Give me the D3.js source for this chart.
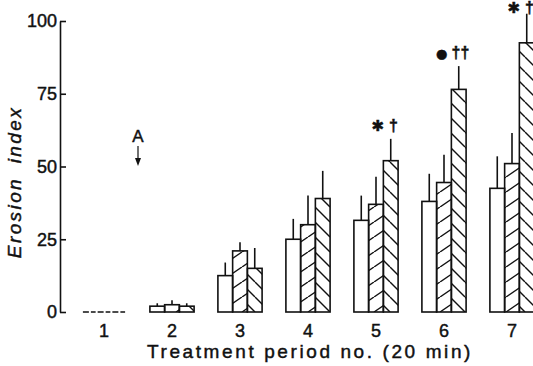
<!DOCTYPE html>
<html>
<head>
<meta charset="utf-8">
<script src="https://cdn.jsdelivr.net/npm/d3@7"></script>
<style>
  body { margin: 0; background: #fff; }
  svg { display: block; font-family: "Liberation Sans", Arial, sans-serif; }
  text { stroke: #111; stroke-width: 0.45; }
</style>
</head>
<body>
<svg id="chart" width="533" height="366"></svg>
<script>
// values
var periods = ["1", "2", "3", "4", "5", "6", "7"];
var yTicks = [0, 25, 50, 75, 100];
var meanOpen = [0, 2, 12.5, 25, 31.5, 38, 42.5];
var semOpen = [0, 1, 4.5, 7, 8.5, 9.5, 11];
var meanHatchA = [0, 2.5, 21, 30, 37, 44.5, 51];
var semHatchA = [0, 1.5, 3, 10, 9.5, 9.5, 10.5];
var meanHatchB = [0, 2, 15, 39, 52, 76.5, 92.5];
var semHatchB = [0, 1, 7, 9.5, 7.5, 8, 10];
var notes = [
  {period: "5", mark: "\u2731", dag: "\u2020"},
  {period: "6", mark: "\u25CF", dag: "\u2020\u2020"},
  {period: "7", mark: "\u2731", dag: "\u2020"}
];

var svg = d3.select("#chart");

var y = d3.scaleLinear().domain([0, 100]).range([312, 21]);
var x = d3.scaleBand().domain(periods).range([70, 546])
  .paddingInner(0.35).paddingOuter(0.175);
var x1 = d3.scaleBand().domain([0, 1, 2]).range([0, x.bandwidth()]);

// hatch patterns
var defs = svg.append("defs");
function hatch(id, w, h, up) {
  var p = defs.append("pattern").attr("id", id)
    .attr("patternUnits", "userSpaceOnUse")
    .attr("width", w).attr("height", h)
    .attr("y", 312);
  var segs = up
    ? [[-w, h, 0, 0], [0, h, w, 0], [w, h, 2 * w, 0]]
    : [[-w, 0, 0, h], [0, 0, w, h], [w, 0, 2 * w, h]];
  segs.forEach(function (s) {
    p.append("line").attr("x1", s[0]).attr("y1", s[1]).attr("x2", s[2]).attr("y2", s[3])
      .attr("stroke", "#111").attr("stroke-width", 1.4);
  });
}
hatch("hatchA", 22, 15, true);
hatch("hatchB", 15, 15, false);

var series = [
  {mean: meanOpen, sem: semOpen, fill: "#fff"},
  {mean: meanHatchA, sem: semHatchA, fill: "url(#hatchA)"},
  {mean: meanHatchB, sem: semHatchB, fill: "url(#hatchB)"}
];

var rows = [];
periods.forEach(function (p, i) {
  series.forEach(function (s, j) {
    rows.push({period: p, k: j, v: s.mean[i], e: s.sem[i], fill: s.fill});
  });
});

var g = svg.append("g");

var bars = rows.filter(function (d) { return d.v > 0; });
var zeros = rows.filter(function (d) { return d.v === 0; });

// error bars (behind)
g.selectAll("line.err").data(bars).enter().append("line")
  .attr("class", "err")
  .attr("x1", function (d) { return x(d.period) + x1(d.k) + x1.bandwidth() / 2; })
  .attr("x2", function (d) { return x(d.period) + x1(d.k) + x1.bandwidth() / 2; })
  .attr("y1", function (d) { return y(d.v); })
  .attr("y2", function (d) { return y(d.v + d.e); })
  .attr("stroke", "#111").attr("stroke-width", 1.6);

g.selectAll("rect.bar").data(bars).enter().append("rect")
  .attr("class", "bar")
  .attr("x", function (d) { return x(d.period) + x1(d.k); })
  .attr("width", x1.bandwidth())
  .attr("y", function (d) { return y(d.v); })
  .attr("height", function (d) { return y(0) - y(d.v); })
  .attr("fill", function (d) { return d.fill; })
  .attr("stroke", "#111").attr("stroke-width", 1.6);

g.selectAll("line.zero").data(zeros).enter().append("line")
  .attr("class", "zero")
  .attr("x1", function (d) { return x(d.period) + x1(d.k) + 1; })
  .attr("x2", function (d) { return x(d.period) + x1(d.k) + x1.bandwidth() - 1; })
  .attr("y1", y(0)).attr("y2", y(0))
  .attr("stroke", "#111").attr("stroke-width", 1.4)
  .attr("stroke-dasharray", "6,2");

// significance marks above third bar
var nt = g.selectAll("text.note").data(notes).enter().append("text")
  .attr("class", "note")
  .attr("x", function (d) { return x(d.period) + x1(2) + x1.bandwidth() / 2 - 6; })
  .attr("y", function (d) {
    var i = periods.indexOf(d.period);
    return Math.max(13, y(meanHatchB[i] + semHatchB[i]) - 8);
  })
  .attr("text-anchor", "middle")
  .attr("fill", "#111");
nt.append("tspan")
  .attr("font-size", function (d) { return d.mark === "\u25CF" ? 13 : 15; })
  .attr("font-family", "DejaVu Sans, sans-serif")
  .text(function (d) { return d.mark + " "; });
nt.append("tspan")
  .attr("font-size", 16).attr("font-weight", "bold")
  .text(function (d) { return d.dag; });

// y axis
var yAxis = svg.append("g")
  .attr("transform", "translate(60,0)")
  .call(d3.axisLeft(y).tickValues(yTicks).tickSize(-6).tickSizeOuter(0).tickPadding(3));
yAxis.select(".domain").attr("stroke", "#111").attr("stroke-width", 1.6);
yAxis.selectAll(".tick line").attr("stroke", "#111").attr("stroke-width", 1.6);
yAxis.selectAll(".tick text").attr("font-size", 18).attr("fill", "#111")
  .attr("font-family", "Liberation Sans, Arial, sans-serif");

// x tick labels
svg.append("g").selectAll("text").data(periods).enter().append("text")
  .attr("x", function (d) { return x(d) + x.bandwidth() / 2; })
  .attr("y", 337)
  .attr("text-anchor", "middle")
  .attr("font-size", 18).attr("fill", "#111")
  .text(function (d) { return d; });

// axis titles
svg.append("text")
  .attr("x", 310).attr("y", 358)
  .attr("text-anchor", "middle")
  .attr("font-size", 19).attr("letter-spacing", 2.6).attr("fill", "#111")
  .text("Treatment period no. (20 min)");

svg.append("text")
  .attr("transform", "translate(21,182) rotate(-90)")
  .attr("text-anchor", "middle")
  .attr("font-size", 19).attr("font-style", "italic").attr("letter-spacing", 2.4)
  .attr("word-spacing", 6).attr("fill", "#111")
  .text("Erosion index");

// treatment start marker "A"
var ax = (x("1") + x("2") + x.bandwidth()) / 2;
svg.append("text")
  .attr("x", ax).attr("y", 142)
  .attr("text-anchor", "middle")
  .attr("font-size", 17).attr("fill", "#111")
  .text("A");
svg.append("line")
  .attr("x1", ax).attr("x2", ax).attr("y1", 146).attr("y2", 159)
  .attr("stroke", "#111").attr("stroke-width", 1.2);
svg.append("path")
  .attr("d", "M" + (ax - 3) + ",158 L" + (ax + 3) + ",158 L" + ax + ",166 Z")
  .attr("fill", "#111");
</script>
</body>
</html>
